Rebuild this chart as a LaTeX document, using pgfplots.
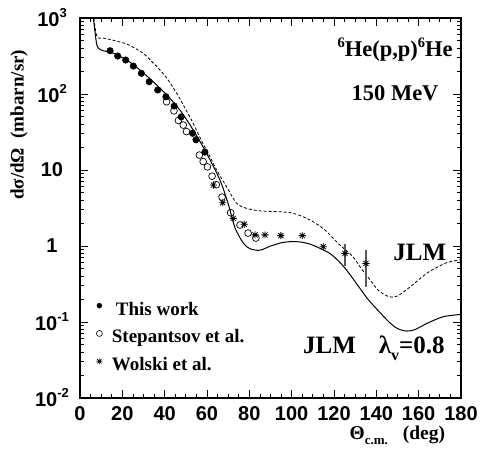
\documentclass[border=0pt]{standalone}
\usepackage{fontspec}
\setmainfont{Liberation Serif}
\newfontfamily\helv{Liberation Sans}
\usepackage{pgfplots}
\pgfplotsset{compat=1.18}

% ROOT-like asterisk marker
\pgfdeclareplotmark{ast8}{%
  \pgfpathmoveto{\pgfqpoint{-\pgfplotmarksize}{0pt}}\pgfpathlineto{\pgfqpoint{\pgfplotmarksize}{0pt}}%
  \pgfpathmoveto{\pgfqpoint{0pt}{-\pgfplotmarksize}}\pgfpathlineto{\pgfqpoint{0pt}{\pgfplotmarksize}}%
  \pgfpathmoveto{\pgfqpoint{-.707\pgfplotmarksize}{-.707\pgfplotmarksize}}\pgfpathlineto{\pgfqpoint{.707\pgfplotmarksize}{.707\pgfplotmarksize}}%
  \pgfpathmoveto{\pgfqpoint{-.707\pgfplotmarksize}{.707\pgfplotmarksize}}\pgfpathlineto{\pgfqpoint{.707\pgfplotmarksize}{-.707\pgfplotmarksize}}%
  \pgfusepathqstroke
  \pgfpathcircle{\pgfpointorigin}{.35\pgfplotmarksize}\pgfusepathqfill}

\newcommand{\fs}[1]{\fontsize{#1}{#1}\selectfont}
\newcommand{\ex}[1]{10\raisebox{0.45em}{\fs{13}#1}}

\begin{document}
\begin{tikzpicture}
\useasboundingbox (-80pt,-65pt) rectangle (404pt,398pt);
\begin{axis}[
    at={(0pt,0pt)}, anchor=south west,
    scale only axis, width=381pt, height=380pt,
    xmin=0, xmax=180,
    ymode=log, ymin=0.01, ymax=1000,
    xtick={0,20,...,180},
    xticklabels={0,20,40,60,80,100,120,140,160,180},
    minor x tick num=3,
    ytick={0.01,0.1,1,10,100,1000},
    yticklabels={\ex{-2},\ex{-1},1,10,\ex{2},\ex{3}},
    minor ytick={0.02,0.03,0.04,0.05,0.06,0.07,0.08,0.09,
                 0.2,0.3,0.4,0.5,0.6,0.7,0.8,0.9,
                 2,3,4,5,6,7,8,9,20,30,40,50,60,70,80,90,
                 200,300,400,500,600,700,800,900},
    tick align=inside,
    major tick length=8pt, minor tick length=4pt,
    every tick/.style={black, line width=0.8pt},
    axis line style={line width=1.4pt},
    ticklabel style={font=\helv\bfseries\fs{20}},
    xticklabel style={yshift=-4.5pt},
    yticklabel style={anchor=center, xshift=-28pt},
    xlabel={Θ\raisebox{-0.3em}{\fs{13}c.m.}\hspace{15pt}(deg)},
    xlabel style={at={(axis description cs:0.833,0)}, anchor=base, yshift=-41pt, font=\bfseries\fs{19.5}},
    ylabel={dσ/dΩ\ \ (mbarn/sr)},
    ylabel style={at={(axis description cs:-0.16,0.719)}, anchor=center, font=\bfseries\fs{19}},
    legend style={draw=none, fill=none, at={(axis description cs:0.0425,0.258)}, anchor=north west,
        inner sep=0pt, row sep=6.8pt, column sep=7.5pt, font=\bfseries\fs{19},
        nodes={inner sep=2pt, text height=13pt, text depth=4pt}},
    legend cell align=left,
    legend image code/.code={\draw[#1] plot coordinates {(0pt,5pt)};},
]
% JLM lambda_v = 0.8 (solid)
\addplot[black, line width=1pt, smooth, tension=0.5, forget plot] coordinates {
 (5,1800)(6.3,1000)(7.9,450)(9.6,385)(12,365)(15.7,345)(22.1,280)(28.3,207)(34.6,145)
 (41,97)(47.2,61.5)(53.5,33.6)(59.8,16.6)(66.1,7.4)(70,3.6)(73.2,1.75)(77.1,1.1)
 (80.3,0.92)(85,0.88)(89.7,0.99)(95,1.1)(99.2,1.14)(103.9,1.13)(108.6,1.06)(113.4,0.93)
 (118,0.8)(122,0.64)(126,0.48)(131,0.31)(136,0.2)(141,0.14)(146,0.1)(150,0.082)
 (154.3,0.076)(158,0.079)(162,0.09)(166,0.102)(172,0.118)(180,0.126)};
% JLM (dashed)
\addplot[black, line width=0.8pt, dash pattern=on 3pt off 2pt, smooth, tension=0.5, forget plot] coordinates {
 (5,1800)(6.5,1000)(8,570)(11,545)(14.2,522)(18,490)(22.1,455)(26,400)(29.9,343)
 (33.5,275)(37.8,207)(41.5,155)(45.7,102)(49.5,66)(53.5,41)(57.5,24)(61.4,15)(65,9.5)
 (69.3,6.0)(74,3.65)(78.7,3.13)(85,2.9)(94.5,2.82)(100,2.72)(105,2.45)(110,2.1)(116,1.6)
 (122,1.08)(126,0.86)(129,0.72)(133,0.5)(137,0.36)(141,0.26)(146,0.215)(150,0.22)
 (156,0.29)(160,0.36)(165,0.46)(173,0.60)(180,0.66)};
% error bars (Wolski)
\addplot[gray!70!black, line width=1.2pt, forget plot] coordinates {(125.2,0.55)(125.2,1.05)};
\addplot[gray!70!black, line width=1.2pt, forget plot] coordinates {(135.1,0.29)(135.1,0.885)};
% This work
\addplot[only marks, mark=*, mark size=3.3pt, black, forget plot] coordinates {
 (14.2,371)(17.8,316)(21.6,280)(25.2,233)(29.0,187)(32.7,145)(36.7,113)(40.6,92)
 (44.5,69.5)(47.8,50)(53.2,30.4)(54.8,25)(59.0,17.2)};
% Stepantsov et al.
\addplot[only marks, mark=o, mark size=3.4pt, black, line width=0.7pt, forget plot] coordinates {
 (40.9,79)(44.4,60)(46.5,44.8)(48.8,39)(50.3,32)(56.4,15.7)(58.2,12.9)(60.2,11.0)
 (62.4,8.3)(64.4,6.4)(67.1,4.4)(71.2,2.74)(75.6,1.89)(79.4,1.48)(83.1,1.27)};
% Wolski et al.
\addplot[only marks, mark=ast8, mark size=3.6pt, black, line width=0.8pt, forget plot] coordinates {
 (63.0,6.35)(67.4,3.7)(72.4,2.31)(77.6,1.93)(82.7,1.40)(87.4,1.40)(94.9,1.37)
 (105.0,1.37)(114.9,0.98)(125.2,0.80)(135.1,0.59)};

\addlegendimage{only marks, mark=*, mark size=2.5pt, black}
\addlegendentry{\hspace{4pt}This work}
\addlegendimage{only marks, mark=o, mark size=3pt, black, line width=0.6pt}
\addlegendentry{Stepantsov et al.}
\addlegendimage{only marks, mark=ast8, mark size=3pt, black, line width=0.6pt}
\addlegendentry{Wolski et al.}

\node[anchor=base, font=\bfseries\fs{22.5}] at (rel axis cs:0.827,0.898)
  {\raisebox{0.42em}{\fs{14.5}6}He(p,p)\raisebox{0.42em}{\fs{14.5}6}He};
\node[anchor=base, font=\bfseries\fs{22.5}] at (rel axis cs:0.827,0.784) {150 MeV};
\node[anchor=base west, inner sep=0pt, font=\bfseries\fs{25}] at (rel axis cs:0.822,0.363) {JLM};
\node[anchor=base west, inner sep=0pt, font=\bfseries\fs{25}] at (rel axis cs:0.585,0.1176)
  {JLM\hspace{23pt}λ\raisebox{-0.28em}{\fs{16}v}=0.8};
\end{axis}
\end{tikzpicture}
\end{document}
